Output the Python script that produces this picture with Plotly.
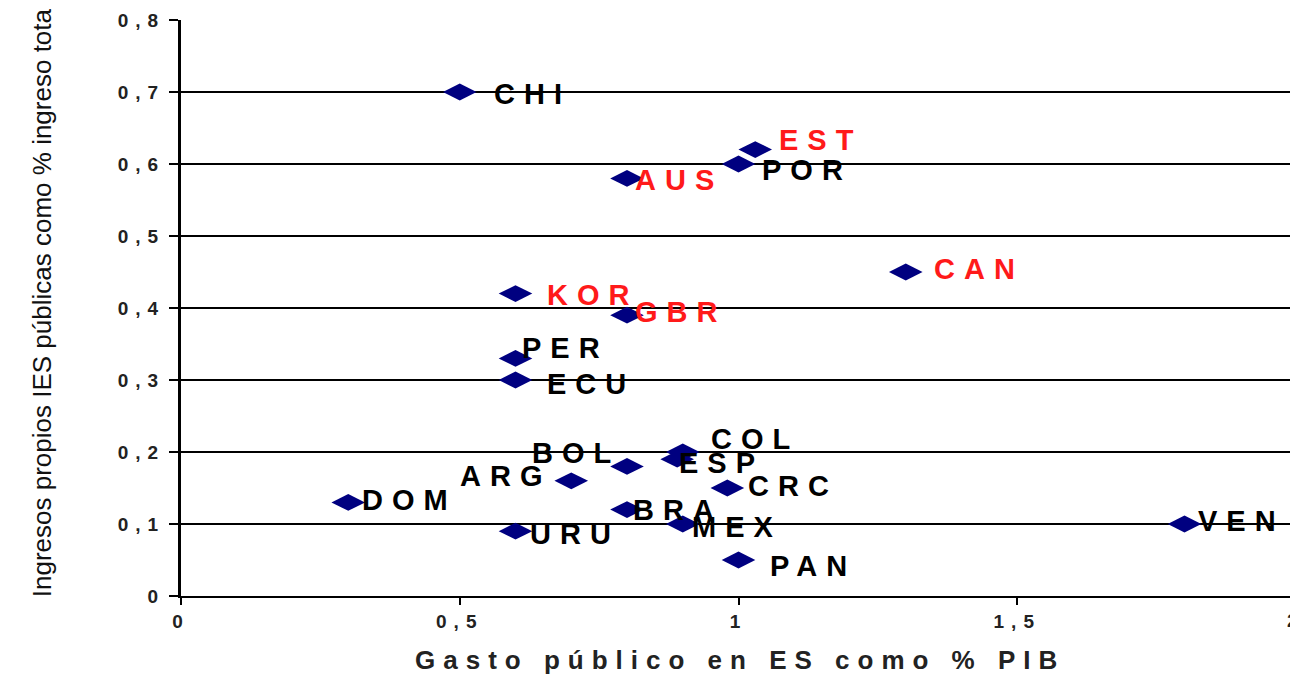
import plotly.graph_objects as go

# %% Datos
paises = ["CHI", "EST", "POR", "AUS", "CAN", "KOR", "GBR", "PER", "ECU", "COL",
          "ESP", "BOL", "ARG", "DOM", "CRC", "BRA", "MEX", "URU", "PAN", "VEN"]
gasto_pib = [0.5, 1.03, 1.0, 0.8, 1.3, 0.6, 0.8, 0.6, 0.6, 0.9,
             0.89, 0.8, 0.7, 0.3, 0.98, 0.8, 0.9, 0.6, 1.0, 1.8]
ingresos_propios = [0.7, 0.62, 0.6, 0.58, 0.45, 0.42, 0.39, 0.33, 0.3, 0.2,
                    0.19, 0.18, 0.16, 0.13, 0.15, 0.12, 0.1, 0.09, 0.05, 0.1]
paises_rojos = ["EST", "AUS", "CAN", "KOR", "GBR"]

y_ticks = [0, 0.1, 0.2, 0.3, 0.4, 0.5, 0.6, 0.7, 0.8]
y_ticklabels = ["0", "0,1", "0,2", "0,3", "0,4", "0,5", "0,6", "0,7", "0,8"]
x_ticks = [0, 0.5, 1, 1.5, 2]
x_ticklabels = ["0", "0,5", "1", "1,5", "2"]

# %% Posición de las etiquetas respecto al punto (ancla, dx, dy en px)
label_pos = {
    "CHI": ("left", 32, -2), "EST": ("left", 22, 10), "POR": ("left", 21, -6),
    "AUS": ("left", 6, -2), "CAN": ("left", 26, 3), "KOR": ("left", 29, -1),
    "GBR": ("left", 6, 3), "PER": ("left", 4, 10), "ECU": ("left", 29, -4),
    "COL": ("left", 26, 13), "ESP": ("left", 0, -4), "BOL": ("right", -5, 13),
    "ARG": ("right", -18, 5), "DOM": ("left", 12, 2), "CRC": ("left", 19, 2),
    "BRA": ("left", 4, 0), "MEX": ("left", 7, -3), "URU": ("left", 12, -3),
    "PAN": ("left", 29, -6), "VEN": ("left", 11, 3),
}

FONT = "Liberation Sans, Arial, sans-serif"
LABEL_SP = 9
TICKFONT = dict(family=FONT, size=19, weight="bold", color="#222")


def wide(txt, sp):
    return f'<span style="letter-spacing:{sp}px">{txt}</span>'


fig = go.Figure()
fig.add_trace(go.Scatter(
    x=gasto_pib, y=ingresos_propios, mode="markers",
    marker=dict(symbol="diamond-wide", size=24, color="#000080"),
    hoverinfo="text", text=paises, showlegend=False,
))

for p, gx, iy in zip(paises, gasto_pib, ingresos_propios):
    anchor, dx, dy = label_pos[p]
    fig.add_annotation(
        x=gx, y=iy, text=wide(p, LABEL_SP), showarrow=False,
        xanchor=anchor, yanchor="middle", xshift=dx, yshift=dy,
        font=dict(family=FONT, size=29, weight="bold",
                  color="#FF1A1A" if p in paises_rojos else "#000000"),
    )

# grid lines only between 0.1 and 0.7
for gv in y_ticks[1:-1]:
    fig.add_shape(type="line", xref="paper", x0=0, x1=1, y0=gv, y1=gv,
                  line=dict(color="black", width=2), layer="below")

fig.add_annotation(
    xref="paper", yref="paper", x=-0.1247, y=0.51, textangle=-90,
    xanchor="center", yanchor="middle",
    text="Ingresos propios IES públicas como % ingreso tota", showarrow=False,
    font=dict(family=FONT, size=26, color="#111"),
)
fig.add_annotation(
    xref="paper", yref="paper", x=0.501, y=-0.111,
    xanchor="center", yanchor="middle",
    text=wide("Gasto público en ES como % PIB", 8), showarrow=False,
    font=dict(family=FONT, size=26, weight="bold", color="#222"),
)

# last x tick label sits on the right edge of the page (cut in the original)
fig.add_annotation(
    x=x_ticks[-1], xref="x", yref="paper", y=0, yanchor="top", yshift=-12,
    xanchor="right", xshift=4, text=x_ticklabels[-1], showarrow=False,
    font=TICKFONT,
)

fig.update_xaxes(
    range=[0, 2], tickvals=x_ticks,
    ticktext=[wide(t, 7) for t in x_ticklabels[:-1]] + [""],
    showgrid=False, zeroline=False, showline=True, linecolor="black", linewidth=2,
    ticks="outside", ticklen=7, tickcolor="black", tickwidth=2,
    tickfont=TICKFONT,
)
fig.update_yaxes(
    range=[0, 0.8], tickvals=y_ticks, ticktext=[wide(t, 7) for t in y_ticklabels],
    showgrid=False, zeroline=False, showline=True, linecolor="black", linewidth=3,
    ticks="outside", ticklen=9, tickcolor="black", tickwidth=2,
    tickfont=TICKFONT,
)

# la página tiene 8 px de margen en el body
fig.update_layout(
    width=1290, height=666,
    margin=dict(l=173, r=2, t=12, b=78),
    plot_bgcolor="white", paper_bgcolor="white",
)

fig.write_html("out.html")
